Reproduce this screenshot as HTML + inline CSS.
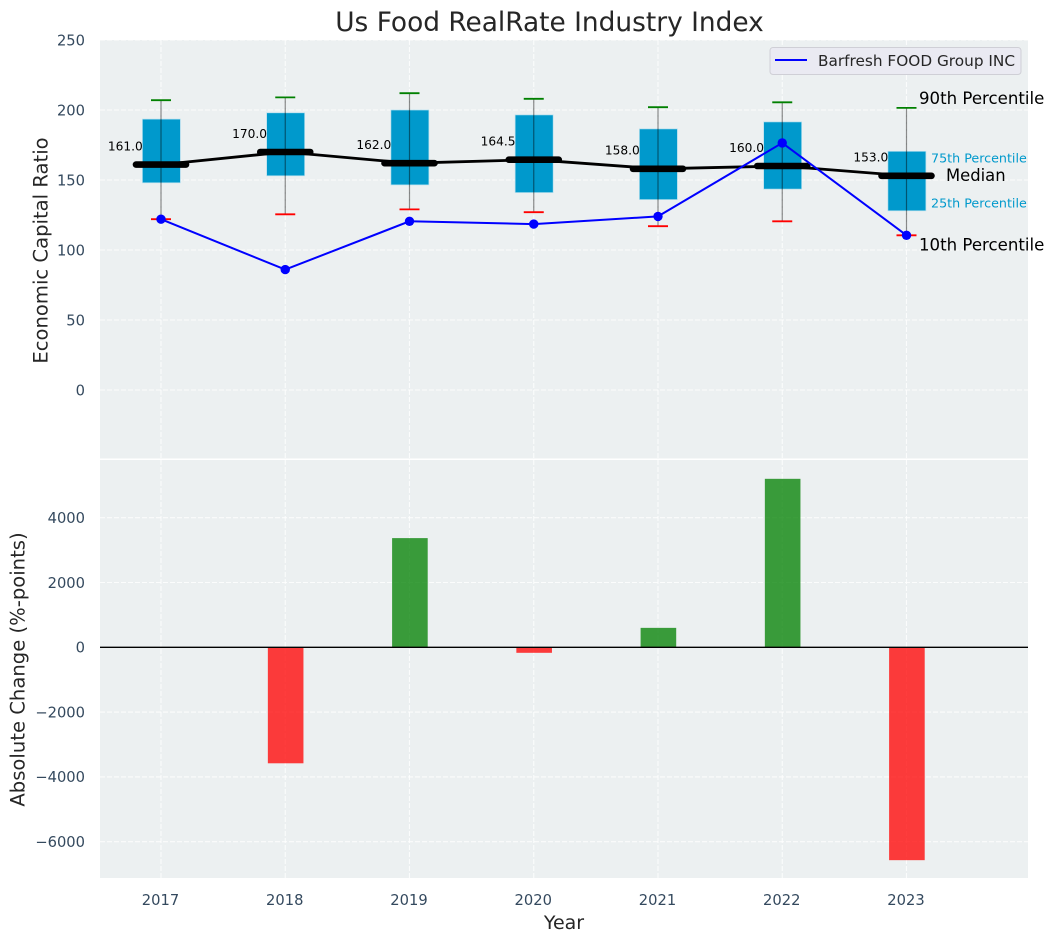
<!DOCTYPE html>
<html>
<head>
<meta charset="utf-8">
<title>Us Food RealRate Industry Index</title>
<style>
html,body{margin:0;padding:0;background:#fff;}
#chart{display:block;width:1054px;height:942px;font-family:"DejaVu Sans","Liberation Sans",sans-serif;}
</style>
</head>
<body>
<svg id="chart" xmlns="http://www.w3.org/2000/svg" width="1054" height="942" viewBox="0 0 1054 942">
  <rect x="100" y="40" width="928" height="418.5" fill="#ecf0f1"/>
  <rect x="100" y="460" width="928" height="418" fill="#ecf0f1"/>
  <g id="grid"></g>
  <g id="bars"></g>
  <g id="boxes"></g>
  <g id="lines"></g>
  <g id="ticks"></g>
  <g id="notes"></g>
  <text x="549.5" y="31" font-size="26.4" text-anchor="middle" fill="#262626">Us Food RealRate Industry Index</text>
  <text transform="translate(47.5,250.5) rotate(-90)" font-size="19.6" text-anchor="middle" fill="#262626">Economic Capital Ratio</text>
  <text transform="translate(24.5,669.5) rotate(-90)" font-size="19.6" text-anchor="middle" fill="#262626">Absolute Change (%-points)</text>
  <text x="564" y="929" font-size="19" text-anchor="middle" fill="#262626">Year</text>
  <g>
    <rect x="770" y="47.5" width="251" height="27" rx="3" fill="#eaeaf2" stroke="#cfcfd6" stroke-width="1"/>
    <line x1="775" y1="60" x2="807" y2="60" stroke="#0000ff" stroke-width="2"/>
    <text x="818" y="66" font-size="15.3" fill="#262626">Barfresh FOOD Group INC</text>
  </g>
</svg>
<script>
var years = [2017, 2018, 2019, 2020, 2021, 2022, 2023];
var p90 = [207, 209, 212, 208, 202, 205.5, 201.5];
var p75 = [193.5, 198, 200, 196.5, 186.5, 191.5, 170.5];
var medians = [161, 170, 162, 164.5, 158, 160, 153];
var p25 = [148, 153, 146.5, 141, 136, 143.5, 128];
var p10 = [122, 125.5, 129, 127, 117, 120.5, 110.5];
var company = [122, 86, 120.5, 118.5, 124, 176.5, 110.5];
var changes = [0, -3580, 3370, -170, 600, 5200, -6570];
var topTicks = [250, 200, 150, 100, 50, 0];
var bottomTicks = [4000, 2000, 0, -2000, -4000, -6000];

var NS = 'http://www.w3.org/2000/svg';
function xPos(v) { return 161 + (v - 2017) * 124.25; }
function yTop(v) { return 390 - v * 1.4; }
function yBottom(v) { return 647.3 - v * 0.0324; }
function make(parent, tag, attrs, txt) {
  var e = document.createElementNS(NS, tag);
  for (var k in attrs) e.setAttribute(k, attrs[k]);
  if (txt !== undefined) e.textContent = txt;
  document.getElementById(parent).appendChild(e);
  return e;
}
var el, i, j;
var gridStyle = {stroke: '#ffffff', 'stroke-width': 1.1, 'stroke-dasharray': '5 2', opacity: 0.8};
function gridLine(x1, y1, x2, y2) {
  var a = {x1: x1, y1: y1, x2: x2, y2: y2};
  for (var k in gridStyle) a[k] = gridStyle[k];
  return make('grid', 'line', a);
}

/* grid */
for (i = 0; i < years.length; i++) {
  el = gridLine(xPos(years[i]), 40, xPos(years[i]), 458.5);
  
  
  el = gridLine(xPos(years[i]), 460, xPos(years[i]), 878);
  
  
}
for (i = 0; i < topTicks.length; i++) {
  el = gridLine(100, yTop(topTicks[i]), 1028, yTop(topTicks[i]));
  
  
  el = make('ticks', 'text', {x: 85, y: yTop(topTicks[i]) + 5.3, 'font-size': 14.7, 'text-anchor': 'end', fill: '#34495e'}, String(topTicks[i]));
  
  
}
for (i = 0; i < bottomTicks.length; i++) {
  el = gridLine(100, yBottom(bottomTicks[i]), 1028, yBottom(bottomTicks[i]));
  
  
  el = make('ticks', 'text', {x: 85, y: yBottom(bottomTicks[i]) + 5.3, 'font-size': 14.7, 'text-anchor': 'end', fill: '#34495e'}, String(bottomTicks[i]).replace('-', '\u2212'));
  
  
}

/* bottom bars */
for (i = 0; i < years.length; i++) {
  if (changes[i] !== 0) {
    var y0 = yBottom(Math.max(changes[i], 0));
    var y1 = yBottom(Math.min(changes[i], 0));
    el = make('bars', 'rect', {x: xPos(years[i]) - 17.4, y: y0, width: 35.6, height: y1 - y0, fill: changes[i] > 0 ? '#008000' : '#ff0000', 'fill-opacity': 0.76});
    
    
  }
  el = make('ticks', 'text', {x: xPos(years[i]) - 0.5, y: 905, 'font-size': 14.7, 'text-anchor': 'middle', fill: '#34495e'}, String(years[i]));
  
  
}
el = make('bars', 'line', {x1: 100, y1: yBottom(0), x2: 1028, y2: yBottom(0), stroke: '#000000', 'stroke-width': 1.3});



/* boxes */
for (i = 0; i < years.length; i++) {
  var cx = xPos(years[i]);
  el = make('boxes', 'rect', {x: cx - 18.6, y: yTop(p75[i]), width: 38, height: yTop(p25[i]) - yTop(p75[i]), fill: '#0099cc', stroke: '#b5dfee', 'stroke-width': 0.7});
  
  
  el = make('boxes', 'line', {x1: cx, y1: yTop(p90[i]), x2: cx, y2: yTop(p10[i]), stroke: '#000000', 'stroke-opacity': 0.45, 'stroke-width': 1.2});
  
  
  el = make('boxes', 'line', {x1: cx - 10, y1: yTop(p90[i]), x2: cx + 10, y2: yTop(p90[i]), stroke: '#008000', 'stroke-width': 1.8});
  
  
  el = make('boxes', 'line', {x1: cx - 10, y1: yTop(p10[i]), x2: cx + 10, y2: yTop(p10[i]), stroke: '#ff0000', 'stroke-width': 1.8});
  
  
}

/* median trend line and thick median bars */
var medPts = [];
var coPts = [];
for (i = 0; i < years.length; i++) {
  medPts.push(xPos(years[i]) + ',' + yTop(medians[i]));
  coPts.push(xPos(years[i]) + ',' + yTop(company[i]));
}
el = make('lines', 'polyline', {points: medPts.join(' '), fill: 'none', stroke: '#000000', 'stroke-width': 2.8});


for (i = 0; i < years.length; i++) {
  el = make('lines', 'line', {x1: xPos(years[i]) - 25, y1: yTop(medians[i]), x2: xPos(years[i]) + 25, y2: yTop(medians[i]), stroke: '#000000', 'stroke-width': 6.6, 'stroke-linecap': 'round'});
  
  
  el = make('notes', 'text', {x: xPos(years[i]) - 18.2, y: yTop(medians[i]) - 14.2, 'font-size': 12.2, 'text-anchor': 'end', fill: '#000000'}, medians[i].toFixed(1));
  
  
}

/* company series */
el = make('lines', 'polyline', {points: coPts.join(' '), fill: 'none', stroke: '#0000ff', 'stroke-width': 2});


for (i = 0; i < years.length; i++) {
  el = make('lines', 'circle', {cx: xPos(years[i]), cy: yTop(company[i]), r: 4.7, fill: '#0000ff'});
  
  
}

/* percentile annotations next to the final year */
j = years.length - 1;
var lastX = xPos(years[j]);
el = make('notes', 'text', {x: lastX + 12.5, y: yTop(p90[j]) - 3.8, 'font-size': 16.6, fill: '#000000'}, '90th Percentile');


el = make('notes', 'text', {x: lastX + 12.5, y: yTop(p10[j]) + 15, 'font-size': 16.6, fill: '#000000'}, '10th Percentile');


el = make('notes', 'text', {x: lastX + 39.5, y: yTop(medians[j]) + 5.4, 'font-size': 16.4, fill: '#000000'}, 'Median');


el = make('notes', 'text', {x: lastX + 24.5, y: yTop(p75[j]) + 11, 'font-size': 12.7, fill: '#0099cc'}, '75th Percentile');


el = make('notes', 'text', {x: lastX + 24.5, y: yTop(p25[j]) - 3.4, 'font-size': 12.7, fill: '#0099cc'}, '25th Percentile');


</script>
</body>
</html>
